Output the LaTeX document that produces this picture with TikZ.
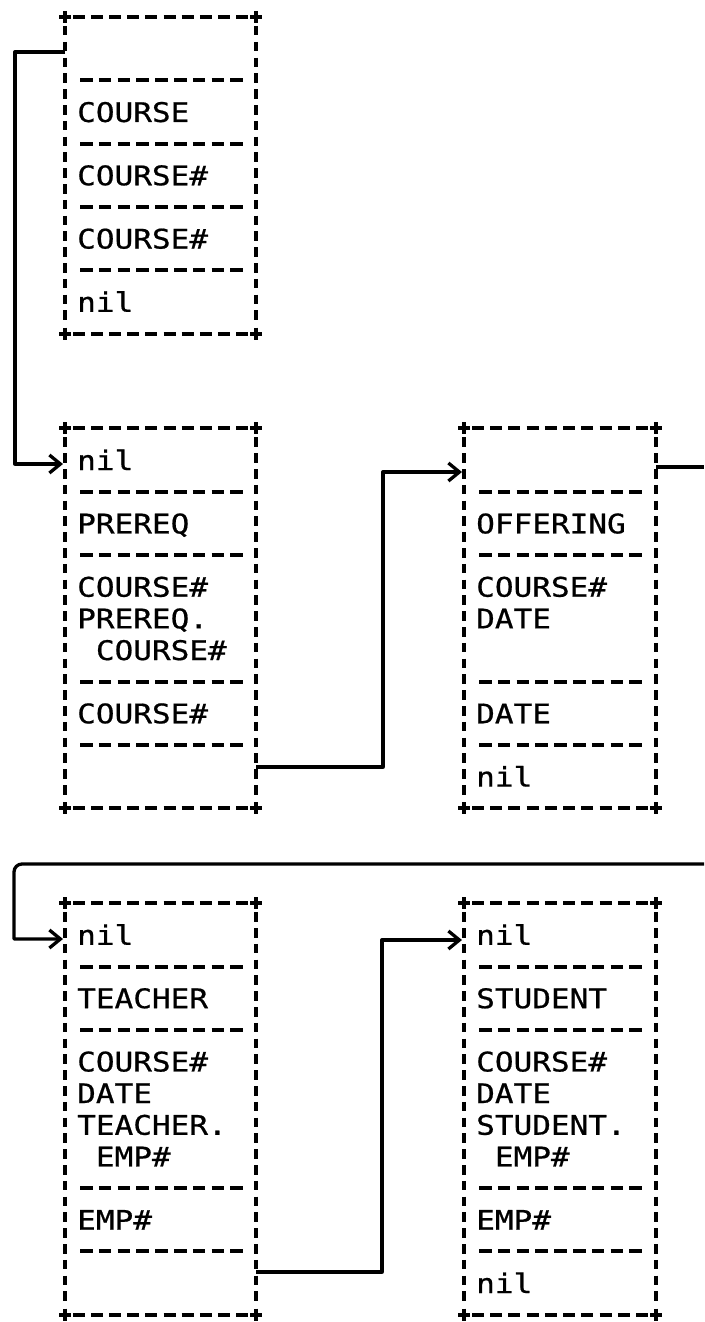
\documentclass[tikz,border=0pt]{standalone}
\usepackage{fontspec}
\setmonofont[FakeStretch=1.15,FakeBold=0.7]{DejaVu Sans Mono}
\usetikzlibrary{arrows.meta}
% y of typewriter line n
\newcommand{\ly}[1]{(17+31.65*(#1))}
% top/bottom border: + ---------- +
\newcommand{\edgeline}[3]{%
  \draw[dsh] ({#1-6},{\ly{#3}}) -- ({#1+6},{\ly{#3}}) ({#1},{\ly{#3}-6}) -- ({#1},{\ly{#3}+6});
  \draw[dsh] ({#2-6},{\ly{#3}}) -- ({#2+6},{\ly{#3}}) ({#2},{\ly{#3}-6}) -- ({#2},{\ly{#3}+6});
  \foreach \i in {0,...,9}{\draw[dsh] ({#1+8+\i*(#2-#1-28)/9},{\ly{#3}}) -- ++(12,0);}}
% inner separator: ---------
\newcommand{\sepline}[3]{%
  \foreach \i in {0,...,8}{\draw[dsh] ({#1+15+\i*18.8},{\ly{#3}}) -- ++(12.5,0);}}
% side of a box
\newcommand{\sideline}[3]{%
  \draw[vdsh] ({#1},{\ly{#2}+9}) -- ({#1},{\ly{#3}-9});}
% a box frame: xl xr topline bottomline
\newcommand{\frameof}[4]{%
  \edgeline{#1}{#2}{#3}\edgeline{#1}{#2}{#4}%
  \sideline{#1}{#3}{#4}\sideline{#2}{#3}{#4}}
% text cell: name x line text
\newcommand{\cell}[4]{\node[txt] (#1) at ({#2},{\ly{#3}+10}) {#4};}
\begin{document}
\begin{tikzpicture}[x=1pt,y=-1pt,
  dsh/.style={line width=4pt},
  vdsh/.style={line width=3.5pt,dash pattern=on 9.5pt off 6.3pt},
  conn/.style={line width=3.3pt,line join=round},
  arr/.style={conn,-{Straight Barb[length=11pt,width=18pt,line width=3.3pt]}},
  txt/.style={anchor=base west,inner sep=0pt,font=\fontsize{27}{31}\selectfont\ttfamily}]
\fill[white] (0,0) rectangle (704,1322);
\useasboundingbox (0,0) rectangle (704,1322);

% ---- box 1: COURSE
\frameof{65}{256}{0}{10}
\foreach \n in {2,4,6,8}{\sepline{65}{256}{\n}}
\cell{b1a}{77}{3}{COURSE}
\cell{b1b}{77}{5}{COURSE\#}
\cell{b1c}{77}{7}{COURSE\#}
\cell{b1d}{77}{9}{nil}

% ---- box 2: PREREQ
\frameof{65}{256}{13}{25}
\foreach \n in {15,17,21,23}{\sepline{65}{256}{\n}}
\cell{b2a}{77}{14}{nil}
\cell{b2b}{77}{16}{PREREQ}
\cell{b2c}{77}{18}{COURSE\#}
\cell{b2d}{77}{19}{PREREQ.}
\cell{b2e}{77}{20}{\phantom{X}COURSE\#}
\cell{b2f}{77}{22}{COURSE\#}

% ---- box 3: OFFERING
\frameof{464}{656}{13}{25}
\foreach \n in {15,17,21,23}{\sepline{464}{656}{\n}}
\cell{b3a}{476}{16}{OFFERING}
\cell{b3b}{476}{18}{COURSE\#}
\cell{b3c}{476}{19}{DATE}
\cell{b3d}{476}{22}{DATE}
\cell{b3e}{476}{24}{nil}

% ---- box 4: TEACHER
\frameof{65}{256}{28}{41}
\foreach \n in {30,32,37,39}{\sepline{65}{256}{\n}}
\cell{b4a}{77}{29}{nil}
\cell{b4b}{77}{31}{TEACHER}
\cell{b4c}{77}{33}{COURSE\#}
\cell{b4d}{77}{34}{DATE}
\cell{b4e}{77}{35}{TEACHER.}
\cell{b4f}{77}{36}{\phantom{X}EMP\#}
\cell{b4g}{77}{38}{EMP\#}

% ---- box 5: STUDENT
\frameof{464}{656}{28}{41}
\foreach \n in {30,32,37,39}{\sepline{464}{656}{\n}}
\cell{b5a}{476}{29}{nil}
\cell{b5b}{476}{31}{STUDENT}
\cell{b5c}{476}{33}{COURSE\#}
\cell{b5d}{476}{34}{DATE}
\cell{b5e}{476}{35}{STUDENT.}
\cell{b5f}{476}{36}{\phantom{X}EMP\#}
\cell{b5g}{476}{38}{EMP\#}
\cell{b5h}{476}{40}{nil}

% ---- connector ports
\coordinate (b1L) at (65,52);
\coordinate (b2in) at (63,464);
\coordinate (b2R) at (256,767);
\coordinate (b3in) at (462,472);
\coordinate (b3R) at (656,467);
\coordinate (edgeA) at (704,467);
\coordinate (edgeB) at (704,864);
\coordinate (b4in) at (63,939);
\coordinate (b4R) at (256,1272);
\coordinate (b5in) at (462,940);

% ---- connectors
\draw[arr] (b1L) -- ++(-50,0) |- (b2in);
\draw[arr] (b2R) -- ++(127,0) |- (b3in);
\draw[conn] (b3R) -- (edgeA);
\draw[arr] (edgeB) [rounded corners=8pt] -- (14,864) [sharp corners] -- (14,939) -- (b4in);
\draw[arr] (b4R) -- ++(126,0) |- (b5in);
\end{tikzpicture}
\end{document}
